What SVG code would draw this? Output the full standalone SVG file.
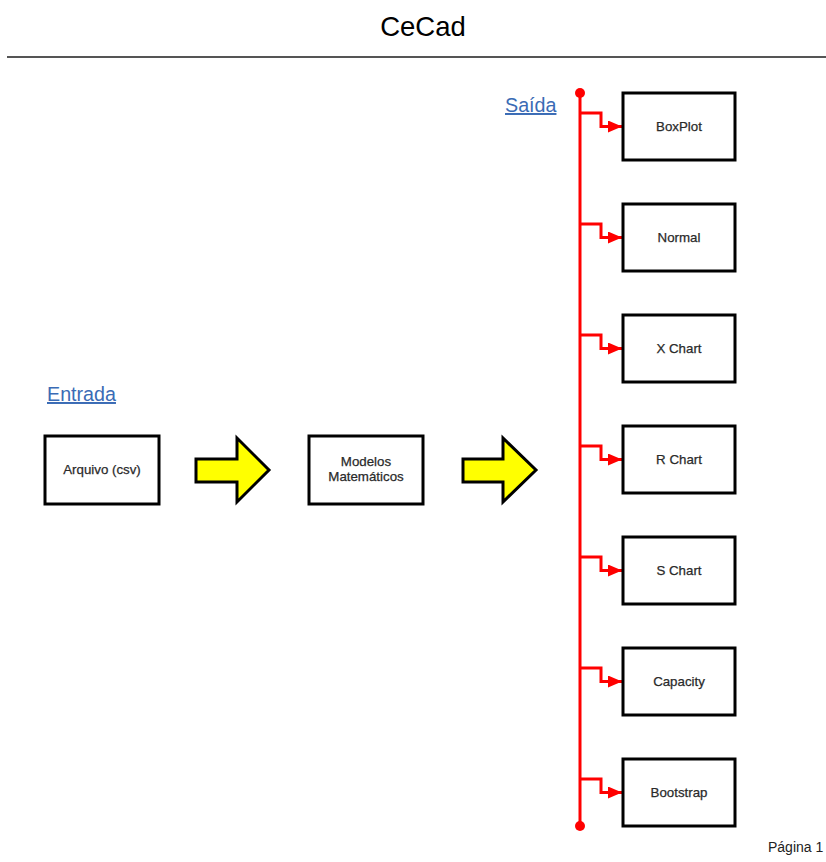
<svg xmlns="http://www.w3.org/2000/svg" width="826" height="862" viewBox="0 0 826 862">
<style>
.box{fill:#fff;stroke:#000;stroke-width:3}
.lbl{font-family:"Liberation Sans",Arial,sans-serif;font-size:13.3px;fill:#2a2a2a;stroke:#2a2a2a;stroke-width:0.25;text-anchor:middle}
.link{font-family:"Liberation Sans",Arial,sans-serif;font-size:19.7px;fill:#3a6bb5;text-decoration:underline}
.arrow{fill:#ffff00;stroke:#000;stroke-width:3;stroke-linejoin:miter}
.red{fill:none;stroke:#f00;stroke-width:3}
</style>
<defs>
<marker id="ah" markerWidth="14" markerHeight="12" refX="14" refY="6" orient="auto" markerUnits="userSpaceOnUse">
<path d="M0,0 L14,6 L0,12 Z" fill="#f00"/>
</marker>
</defs>
<text x="423" y="36" font-family="'Liberation Sans',Arial,sans-serif" font-size="27.5" text-anchor="middle" fill="#000">CeCad</text>
<line x1="7" y1="57" x2="826" y2="57" stroke="#555" stroke-width="2"/>
<text class="link" x="47" y="401">Entrada</text>
<text class="link" x="505" y="112">Saída</text>
<g id="arquivo"><rect class="box" x="45" y="436" width="114" height="68"/><text class="lbl" x="102" y="474">Arquivo (csv)</text></g>
<g id="modelos"><rect class="box" x="309" y="436" width="114" height="68"/><text class="lbl" x="366" y="466">Modelos</text><text class="lbl" x="366" y="481">Matemáticos</text></g>
<g id="arrows-big">
<path class="arrow" d="M196,459 H237 V438 L269,470 L237,502 V482 H196 Z"/>
<path class="arrow" d="M463,459 H503 V438 L536,470 L503,502 V482 H463 Z"/>
</g>
<g id="connectors">
<line class="red" x1="580" y1="93" x2="580" y2="826"/>
<circle cx="580" cy="93" r="5" fill="#f00"/>
<circle cx="580" cy="826" r="5" fill="#f00"/>
<path class="red" d="M580,113 H601 V126.5 H622" marker-end="url(#ah)"/>
<path class="red" d="M580,224 H601 V237.5 H622" marker-end="url(#ah)"/>
<path class="red" d="M580,335 H601 V348.5 H622" marker-end="url(#ah)"/>
<path class="red" d="M580,446 H601 V459.5 H622" marker-end="url(#ah)"/>
<path class="red" d="M580,557 H601 V570.5 H622" marker-end="url(#ah)"/>
<path class="red" d="M580,668 H601 V681.5 H622" marker-end="url(#ah)"/>
<path class="red" d="M580,779 H601 V792.5 H622" marker-end="url(#ah)"/>
</g>
<g id="boxplot"><rect class="box" x="623" y="93" width="112" height="67"/><text class="lbl" x="679" y="130.5">BoxPlot</text></g>
<g id="normal"><rect class="box" x="623" y="204" width="112" height="67"/><text class="lbl" x="679" y="241.5">Normal</text></g>
<g id="xchart"><rect class="box" x="623" y="315" width="112" height="67"/><text class="lbl" x="679" y="352.5">X Chart</text></g>
<g id="rchart"><rect class="box" x="623" y="426" width="112" height="67"/><text class="lbl" x="679" y="463.5">R Chart</text></g>
<g id="schart"><rect class="box" x="623" y="537" width="112" height="67"/><text class="lbl" x="679" y="574.5">S Chart</text></g>
<g id="capacity"><rect class="box" x="623" y="648" width="112" height="67"/><text class="lbl" x="679" y="685.5">Capacity</text></g>
<g id="bootstrap"><rect class="box" x="623" y="759" width="112" height="67"/><text class="lbl" x="679" y="796.5">Bootstrap</text></g>
<text x="768" y="852" font-family="'Liberation Sans',Arial,sans-serif" font-size="14" fill="#222">Página 1</text>
</svg>
